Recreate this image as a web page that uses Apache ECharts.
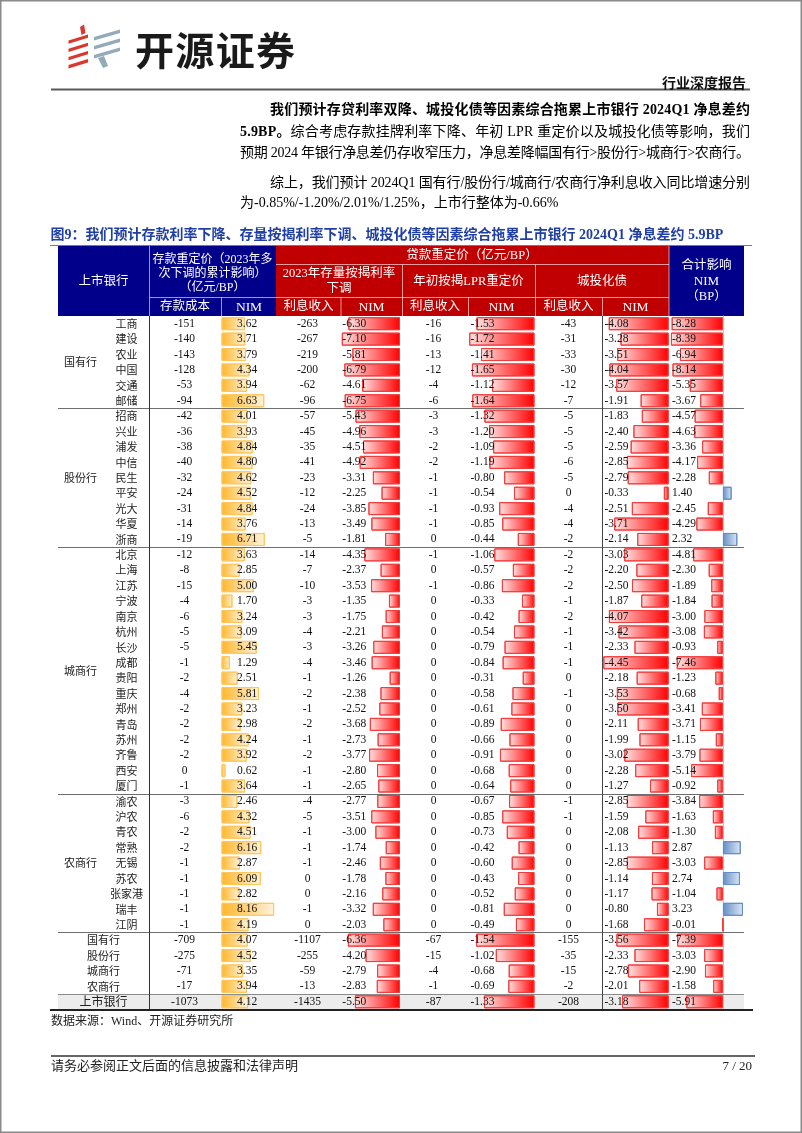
<!DOCTYPE html>
<html><head><meta charset="utf-8">
<script src="https://cdn.jsdelivr.net/npm/echarts@6/dist/echarts.min.js"></script>
<style>html,body{margin:0;padding:0;background:#fff}#c{width:802px;height:1133px}</style>
</head><body><div id="c"></div>
<script>
// ---------------- data ----------------
const banks = ['工商','建设','农业','中国','交通','邮储',
  '招商','兴业','浦发','中信','民生','平安','光大','华夏','浙商',
  '北京','上海','江苏','宁波','南京','杭州','长沙','成都','贵阳','重庆','郑州','青岛','苏州','齐鲁','西安','厦门',
  '渝农','沪农','青农','常熟','无锡','苏农','张家港','瑞丰','江阴'];
const groupNames = ['国有行','股份行','城商行','农商行'];
const groupSizes = [6, 9, 16, 9];
const summaryNames = ['国有行','股份行','城商行','农商行','上市银行'];

const depositCost = [-151,-140,-143,-128,-53,-94, -42,-36,-38,-40,-32,-24,-31,-14,-19,
  -12,-8,-15,-4,-6,-5,-5,-1,-2,-4,-2,-2,-2,-2,0,-1, -3,-6,-2,-2,-1,-1,-1,-1,-1,
  -709,-275,-71,-17,-1073];
const depositNim = [3.62,3.71,3.79,4.34,3.94,6.63, 4.01,3.93,4.84,4.80,4.62,4.52,4.84,3.76,6.71,
  3.63,2.85,5.00,1.70,3.24,3.09,5.45,1.29,2.51,5.81,3.23,2.98,4.24,3.92,0.62,3.64,
  2.46,4.32,4.51,6.16,2.87,6.09,2.82,8.16,4.19, 4.07,4.52,3.35,3.94,4.12];
const mortIncome = [-263,-267,-219,-200,-62,-96, -57,-45,-35,-41,-23,-12,-24,-13,-5,
  -14,-7,-10,-3,-3,-4,-3,-4,-1,-2,-1,-2,-1,-2,-1,-1, -4,-5,-1,-1,-1,0,0,-1,0,
  -1107,-255,-59,-13,-1435];
const mortNim = [-6.30,-7.10,-5.81,-6.79,-4.61,-6.75, -5.43,-4.96,-4.51,-4.92,-3.31,-2.25,-3.85,-3.49,-1.81,
  -4.35,-2.37,-3.53,-1.35,-1.75,-2.21,-3.26,-3.46,-1.26,-2.38,-2.52,-3.68,-2.73,-3.77,-2.80,-2.65,
  -2.77,-3.51,-3.00,-1.74,-2.46,-1.78,-2.16,-3.32,-2.03, -6.36,-4.20,-2.79,-2.83,-5.50];
const lprIncome = [-16,-16,-13,-12,-4,-6, -3,-3,-2,-2,-1,-1,-1,-1,0,
  -1,0,-1,0,0,0,0,0,0,0,0,0,0,0,0,0, 0,0,0,0,0,0,0,0,0, -67,-15,-4,-1,-87];
const lprNim = [-1.53,-1.72,-1.41,-1.65,-1.12,-1.64, -1.32,-1.20,-1.09,-1.19,-0.80,-0.54,-0.93,-0.85,-0.44,
  -1.06,-0.57,-0.86,-0.33,-0.42,-0.54,-0.79,-0.84,-0.31,-0.58,-0.61,-0.89,-0.66,-0.91,-0.68,-0.64,
  -0.67,-0.85,-0.73,-0.42,-0.60,-0.43,-0.52,-0.81,-0.49, -1.54,-1.02,-0.68,-0.69,-1.33];
const lgfvIncome = [-43,-31,-33,-30,-12,-7, -5,-5,-5,-6,-5,0,-4,-4,-2,
  -2,-2,-2,-1,-2,-1,-1,-1,0,-1,0,0,0,0,0,0, -1,-1,0,0,0,0,0,0,0, -155,-35,-15,-2,-208];
const lgfvNim = [-4.08,-3.28,-3.51,-4.04,-3.57,-1.91, -1.83,-2.40,-2.59,-2.85,-2.79,-0.33,-2.51,-3.71,-2.14,
  -3.03,-2.20,-2.50,-1.87,-4.07,-3.42,-2.33,-4.45,-2.18,-3.53,-3.50,-2.11,-1.99,-3.02,-2.28,-1.27,
  -2.85,-1.59,-2.08,-1.13,-2.85,-1.14,-1.17,-0.80,-1.68, -3.56,-2.33,-2.78,-2.01,-3.18];
const totalNim = [-8.28,-8.39,-6.94,-8.14,-5.35,-3.67, -4.57,-4.63,-3.36,-4.17,-2.28,1.40,-2.45,-4.29,2.32,
  -4.81,-2.30,-1.89,-1.84,-3.00,-3.08,-0.93,-7.46,-1.23,-0.68,-3.41,-3.71,-1.15,-3.79,-5.14,-0.92,
  -3.84,-1.63,-1.30,2.87,-3.03,2.74,-1.04,3.23,-0.01, -7.39,-3.03,-2.90,-1.58,-5.91];

// ---------------- layout ----------------
const rows = banks.concat(summaryNames);
const TOP = 316, BOT = 1009.5;
const SER = "'Liberation Serif','Noto Sans CJK SC'";
const CJK = "'Noto Sans CJK SC'";
const G = echarts.graphic;
function grad(c0, c1) { return new G.LinearGradient(0, 0, 1, 0, [{offset:0,color:c0},{offset:1,color:c1}]); }
const RED_NEG = {fill: () => grad('#FFE2E2', '#FF0000'), border: '#F23C3C'};
const ORANGE_POS = {fill: () => grad('#FFB628', '#FFF3DC'), border: '#FFC65A'};
const BLUE_POS = {fill: () => grad('#638EC6', '#DDE7F4'), border: '#638EC6'};

const barCols = [
  {data: depositNim, left: 221.5, right: 276.5, min: 0, max: 8.53, pos: ORANGE_POS, neg: RED_NEG},
  {data: mortNim, left: 341, right: 400, min: -7.2, max: 0, pos: BLUE_POS, neg: RED_NEG},
  {data: lprNim, left: 468.5, right: 534.5, min: -1.74, max: 0, pos: BLUE_POS, neg: RED_NEG},
  {data: lgfvNim, left: 603.2, right: 668.7, min: -4.46, max: 0, pos: BLUE_POS, neg: RED_NEG},
  {data: totalNim, left: 670.3, right: 744, min: -8.5, max: 3.4, pos: BLUE_POS, neg: RED_NEG, axis: true}
];

const grids = [], xAxes = [], yAxes = [], series = [];
barCols.forEach((c, i) => {
  grids.push({left: c.left, top: TOP, width: c.right - c.left, height: BOT - TOP, containLabel: false});
  xAxes.push({type: 'value', gridIndex: i, min: c.min, max: c.max, show: false});
  yAxes.push({type: 'category', gridIndex: i, data: rows, inverse: true, show: !!c.axis,
    axisLabel: {show: false}, axisTick: {show: false}, splitLine: {show: false},
    axisLine: {show: !!c.axis, onZero: true, lineStyle: {color: '#c4c4c4', width: 1}}});
  series.push({type: 'bar', xAxisIndex: i, yAxisIndex: i, barWidth: 13, silent: true, animation: false,
    data: c.data.map(v => {
      const s = v < 0 ? c.neg : c.pos;
      return {value: v, itemStyle: {color: s.fill(), borderColor: s.border, borderWidth: 1}};
    })});
});

const chart = echarts.init(document.getElementById('c'), null, {renderer: 'canvas', width: 802, height: 1133});
chart.setOption({backgroundColor: '#fff', animation: false, grid: grids, xAxis: xAxes, yAxis: yAxes, series: series});

// ---------------- graphics ----------------
const els = [];
function txt(text, x, y, o) {
  o = o || {};
  const align = o.align || 'left';
  els.push({type: 'text', z: o.z || 10, silent: true, style: {
    text: String(text), x: x, y: y,
    font: (o.weight || 'normal') + ' ' + (o.size || 12) + 'px ' + (o.family || SER),
    fill: o.color || '#000', textAlign: align, align: align,
    textVerticalAlign: 'middle', verticalAlign: 'middle'}});
}
function rect(x, y, w, h, fill, z) { els.push({type: 'rect', z: z || 0, silent: true, shape: {x: x, y: y, width: w, height: h}, style: {fill: fill}}); }
function line(x1, y1, x2, y2, stroke, w, z) { els.push({type: 'line', z: z || 5, silent: true, shape: {x1: x1, y1: y1, x2: x2, y2: y2}, style: {stroke: stroke, lineWidth: w || 1}}); }
function poly(pts, fill) { els.push({type: 'polygon', z: 5, silent: true, shape: {points: pts}, style: {fill: fill}}); }
const mctx = document.createElement('canvas').getContext('2d');
function measure(t, font) { mctx.font = font; return mctx.measureText(t).width; }
function justify(segs, x0, x1, y, color) {
  const chars = [];
  segs.forEach(s => { for (const ch of s.text) chars.push({ch: ch, font: s.font, w: measure(ch, s.font)}); });
  const total = chars.reduce((a, c) => a + c.w, 0);
  const gap = chars.length > 1 ? (x1 - x0 - total) / (chars.length - 1) : 0;
  let x = x0;
  chars.forEach(c => {
    els.push({type: 'text', z: 10, silent: true, style: {text: c.ch, x: x, y: y, font: c.font, fill: color || '#000',
      textAlign: 'left', align: 'left', textVerticalAlign: 'middle', verticalAlign: 'middle'}});
    x += c.w + gap;
  });
}

// page border
els.push({type: 'rect', z: 20, silent: true, shape: {x: 0.75, y: 0.75, width: 800.5, height: 1131.5}, style: {fill: 'none', stroke: '#8a8a8a', lineWidth: 1.5}});

// logo
const LR = '#D8382E', LG = '#93AAB8';
poly([[80, 27], [84, 24.5], [85.5, 33], [81.5, 35]], LR);
for (let k = 0; k < 4; k++) {
  const yc = 38 + k * 8.2;
  poly([[68.5, yc + 2.5], [88, yc - 3.5], [88, yc - 0.2], [68.5, yc + 5.8]], LR);
}
for (let k = 0; k < 3; k++) {
  const yc = 34 + k * 9;
  poly([[94, yc + 3], [120, yc - 4.5], [120, yc - 1], [94, yc + 6.5]], LG);
}
poly([[98, 58], [104, 56], [108, 66], [103, 68]], LG);
justify([{text: '开源证券', font: 'bold 39px ' + CJK}], 135, 295, 50, '#1a1a1a');

txt('行业深度报告', 746, 82.5, {align: 'right', weight: 'bold', size: 14, family: CJK, color: '#111'});
line(51, 89.5, 750, 89.5, '#5a5a5a', 2.2);

// paragraphs
const FB = 'bold 14px ' + SER, FN = 'normal 14px ' + SER;
justify([{text: '我们预计存贷利率双降、城投化债等因素综合拖累上市银行 2024Q1 净息差约', font: FB}], 270, 750, 110);
justify([{text: '5.9BP。', font: FB}, {text: '综合考虑存款挂牌利率下降、年初 LPR 重定价以及城投化债等影响，我们', font: FN}], 240, 750, 132);
justify([{text: '预期 2024 年银行净息差仍存收窄压力，净息差降幅国有行>股份行>城商行>农商行。', font: FN}], 240, 750, 153.5);
justify([{text: '综上，我们预计 2024Q1 国有行/股份行/城商行/农商行净利息收入同比增速分别', font: FN}], 270, 750, 183);
txt('为-0.85%/-1.20%/2.01%/1.25%，上市行整体为-0.66%', 240, 203.5, {size: 14});

// figure title
txt('图9：我们预计存款利率下降、存量按揭利率下调、城投化债等因素综合拖累上市银行 2024Q1 净息差约 5.9BP', 50.5, 235, {size: 14, weight: 'bold', color: '#1f3fa6'});
line(50, 245.5, 752, 245.5, '#7a7a7a', 1.2);

// table header
const BLUE = '#00008B', RED = '#C00000', SEP = 'rgba(255,255,255,0.6)';
rect(58, 246, 218, 70, BLUE);
rect(276, 246, 393, 70, RED);
rect(669, 246, 75, 70, BLUE);
line(149.5, 246, 149.5, 316, SEP, 1);
line(149.5, 297.5, 669, 297.5, SEP, 1);
line(221.5, 297.5, 221.5, 316, SEP, 1);
line(276, 264.5, 669, 264.5, SEP, 1);
line(402.5, 264.5, 402.5, 316, SEP, 1);
line(535.5, 264.5, 535.5, 316, SEP, 1);
line(341, 297.5, 341, 316, SEP, 1);
line(468.5, 297.5, 468.5, 316, SEP, 1);
line(602.5, 297.5, 602.5, 316, SEP, 1);
line(669, 246, 669, 316, SEP, 1);
const W = '#ffffff';
txt('上市银行', 103.5, 281.5, {align: 'center', size: 12.5, color: W});
txt('存款重定价（2023年多', 212.5, 259.5, {align: 'center', size: 12, color: W});
txt('次下调的累计影响）', 212.5, 273.5, {align: 'center', size: 12, color: W});
txt('（亿元/BP）', 212.5, 287.5, {align: 'center', size: 12, color: W});
txt('存款成本', 185, 307, {align: 'center', size: 12.5, color: W});
txt('NIM', 249, 307, {align: 'center', size: 13.5, color: W});
txt('贷款重定价（亿元/BP）', 472, 256, {align: 'center', size: 12.5, color: W});
txt('2023年存量按揭利率', 339, 273.5, {align: 'center', size: 12.5, color: W});
txt('下调', 339, 289, {align: 'center', size: 12.5, color: W});
txt('年初按揭LPR重定价', 468.5, 281.5, {align: 'center', size: 12.5, color: W});
txt('城投化债', 602, 281.5, {align: 'center', size: 12.5, color: W});
[[308.5, 371.5], [435, 501.5], [568.5, 635.5]].forEach(p => {
  txt('利息收入', p[0], 307, {align: 'center', size: 12.5, color: W});
  txt('NIM', p[1], 307, {align: 'center', size: 13.5, color: W});
});
txt('合计影响', 706.5, 266, {align: 'center', size: 12.5, color: W});
txt('NIM', 706.5, 281.5, {align: 'center', size: 13, color: W});
txt('（BP）', 706.5, 297, {align: 'center', size: 12.5, color: W});

// body
const rowY = i => chart.convertToPixel({yAxisIndex: 0}, i);
const rowH = rowY(1) - rowY(0);
const edge = i => rowY(i) - rowH / 2;
const nBanks = banks.length;
// separators
let acc = 0;
groupSizes.forEach((n, gi) => {
  const y0 = rowY(acc), y1 = rowY(acc + n - 1);
  txt(groupNames[gi], 80.5, (y0 + y1) / 2, {align: 'center', size: 11, family: CJK, color: '#222'});
  acc += n;
  line(58, Math.round(edge(acc)) + 0.5, 744, Math.round(edge(acc)) + 0.5, '#6e6e6e', 1);
});
const lastTop = edge(rows.length - 1);
rect(58, lastTop, 686, BOT - lastTop, '#ECECEC', 0);
line(58, Math.round(lastTop) + 0.5, 744, Math.round(lastTop) + 0.5, '#8a8a8a', 1);
line(149.5, TOP, 149.5, BOT, '#333', 1);
line(602.5, TOP, 602.5, BOT, '#444', 1);
line(50, BOT + 0.5, 753, BOT + 0.5, '#222', 2);

const f2 = v => v.toFixed(2);
const NUM = {size: 11.5, color: '#111'};
rows.forEach((name, i) => {
  const y = rowY(i);
  if (i < nBanks) txt(name, 126.5, y, {align: 'center', size: 11, family: CJK, color: '#222'});
  else txt(name, 103.5, y, {align: 'center', size: name.length > 3 ? 12 : 11, family: CJK, color: '#222'});
  txt(depositCost[i], 184.5, y, Object.assign({align: 'center'}, NUM));
  txt(f2(depositNim[i]), 237, y, NUM);
  txt(mortIncome[i], 307.5, y, Object.assign({align: 'center'}, NUM));
  txt(f2(mortNim[i]), 342.3, y, NUM);
  txt(lprIncome[i], 433.5, y, Object.assign({align: 'center'}, NUM));
  txt(f2(lprNim[i]), 470.5, y, NUM);
  txt(lgfvIncome[i], 568.5, y, Object.assign({align: 'center'}, NUM));
  txt(f2(lgfvNim[i]), 604.5, y, NUM);
  txt(f2(totalNim[i]), 672, y, NUM);
});

// footer
txt('数据来源：Wind、开源证券研究所', 51, 1022, {size: 12, color: '#222'});
line(51, 1056, 755, 1056, '#333', 1.6);
txt('请务必参阅正文后面的信息披露和法律声明', 51, 1066.5, {size: 13, color: '#222'});
txt('7 / 20', 752, 1066.5, {size: 13, align: 'right', color: '#222'});

chart.setOption({graphic: {elements: els}});
</script>
</body></html>
